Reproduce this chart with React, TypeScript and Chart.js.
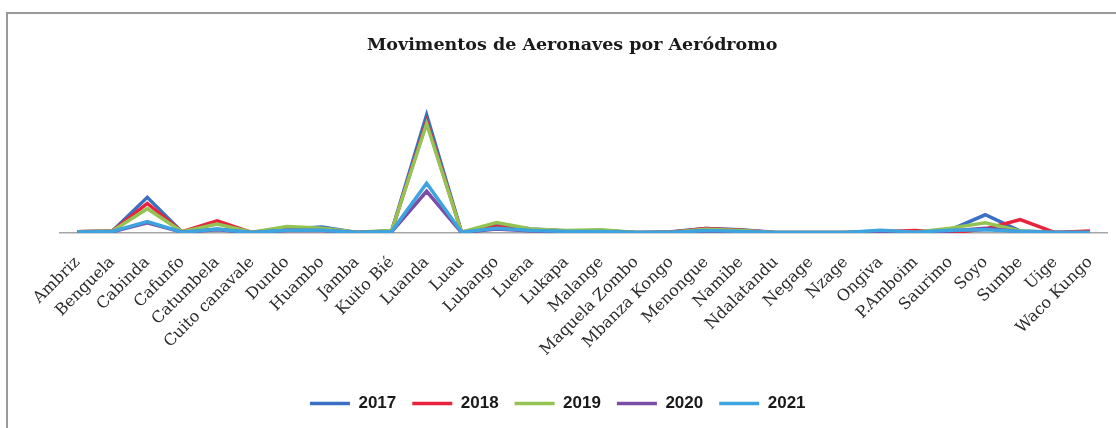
import React, { useEffect, useRef } from "react";
import { Chart, registerables } from "chart.js";

Chart.register(...registerables);

const categories = [
  "Ambriz", "Benguela", "Cabinda", "Cafunfo", "Catumbela", "Cuito canavale",
  "Dundo", "Huambo", "Jamba", "Kuito Bié", "Luanda", "Luau", "Lubango", "Luena",
  "Lukapa", "Malange", "Maquela Zombo", "Mbanza Kongo", "Menongue", "Namibe",
  "Ndalatandu", "Negage", "Nzage", "Ongiva", "P.Amboim", "Saurimo", "Soyo",
  "Sumbe", "Uige", "Waco Kungo",
];

const seriesNames = ["2017", "2018", "2019", "2020", "2021"];

const values2017 = [300, 500, 8800, 200, 1000, 100, 1000, 1500, 100, 500, 29200, 200, 2000, 1000, 500, 600, 100, 300, 1100, 800, 100, 100, 100, 500, 100, 800, 4500, 500, 200, 100];
const values2018 = [300, 500, 7300, 300, 3000, 100, 1200, 900, 100, 500, 27500, 200, 1600, 800, 500, 500, 100, 200, 1100, 700, 100, 100, 100, 300, 600, 0, 1000, 3300, 100, 500];
const values2019 = [300, 500, 6000, 300, 2200, 200, 1600, 1200, 200, 600, 27000, 200, 2600, 1000, 600, 800, 100, 200, 900, 600, 100, 100, 100, 400, 200, 1200, 2500, 500, 100, 100];
const values2020 = [200, 300, 2500, 200, 800, 100, 600, 600, 100, 300, 10300, 100, 1000, 500, 300, 300, 50, 100, 500, 300, 50, 50, 50, 200, 100, 500, 1200, 300, 100, 100];
const values2021 = [200, 400, 2800, 200, 900, 100, 700, 700, 100, 400, 12300, 200, 1200, 600, 400, 400, 100, 100, 600, 400, 100, 100, 100, 700, 200, 700, 800, 400, 100, 100];

const seriesValues = [values2017, values2018, values2019, values2020, values2021];
const seriesColors = ["#3a6fc4", "#e8243c", "#92c353", "#7a4ea6", "#3ea4e0"];

const titleText = "Movimentos de Aeronaves por Aeródromo";

export default function App() {
  const ref = useRef<HTMLCanvasElement>(null);

  useEffect(() => {
    if (!ref.current) return;
    const chart = new Chart(ref.current, {
      type: "line",
      data: {
        labels: categories,
        datasets: seriesNames.map((name, i) => ({
          label: name,
          data: seriesValues[i],
          borderColor: seriesColors[i],
          backgroundColor: seriesColors[i],
          borderWidth: 3.5,
          pointRadius: 0,
          tension: 0,
          order: seriesNames.length - 1 - i,
        })),
      },
      options: {
        animation: false,
        responsive: false,
        maintainAspectRatio: false,
        layout: { padding: { left: 8, right: 8.5, top: 71, bottom: 6 } },
        scales: {
          x: {
            offset: true,
            grid: { display: false, drawTicks: false },
            border: { display: true, color: "#a6a6a6", width: 1.5 },
            ticks: {
              autoSkip: false,
              maxRotation: 45,
              minRotation: 45,
              padding: 20,
              color: "#2b2b2b",
              font: { family: "'DejaVu Serif', serif", size: 16 },
            },
            afterFit: (scale: any) => {
              scale.height = 146;
              scale.paddingLeft = 0;
              scale.paddingRight = 0;
            },
          },
          y: {
            display: true,
            min: 0,
            max: 40000,
            grid: { display: false, drawTicks: false },
            border: { display: false },
            ticks: { display: false },
            afterFit: (scale: any) => {
              scale.width = 52;
            },
          },
        },
        plugins: {
          title: { display: false },
          legend: {
            position: "bottom",
            labels: {
              usePointStyle: true,
              pointStyle: "line",
              pointStyleWidth: 40,
              boxHeight: 4,
              padding: 16,
              color: "#1a1a1a",
              font: { family: "'Liberation Sans', sans-serif", size: 17, weight: "bold" },
              sort: (a: any, b: any) => a.datasetIndex - b.datasetIndex,
            },
          },
          tooltip: { enabled: false },
        },
      },
    });
    return () => chart.destroy();
  }, []);

  return (
    <div style={{ position: "fixed", left: 0, top: 0, width: 1116, height: 428, background: "#fff" }}>
      <canvas ref={ref} width={1116} height={428} style={{ position: "absolute", left: 0, top: 0 }} />
      <div
        style={{
          position: "absolute",
          left: 6,
          top: 12,
          width: 1110,
          height: 416,
          borderTop: "2px solid #9a9a9a",
          borderLeft: "2px solid #9a9a9a",
          boxSizing: "border-box",
          pointerEvents: "none",
        }}
      />
      <div
        style={{
          position: "absolute",
          left: 367,
          width: 400,
          top: 32,
          lineHeight: "24px",
          textAlign: "center",
          whiteSpace: "nowrap",
          fontFamily: "'DejaVu Serif', serif",
          fontWeight: "bold",
          fontSize: 17.5,
          color: "#1a1a1a",
        }}
      >
        {titleText}
      </div>
    </div>
  );
}
